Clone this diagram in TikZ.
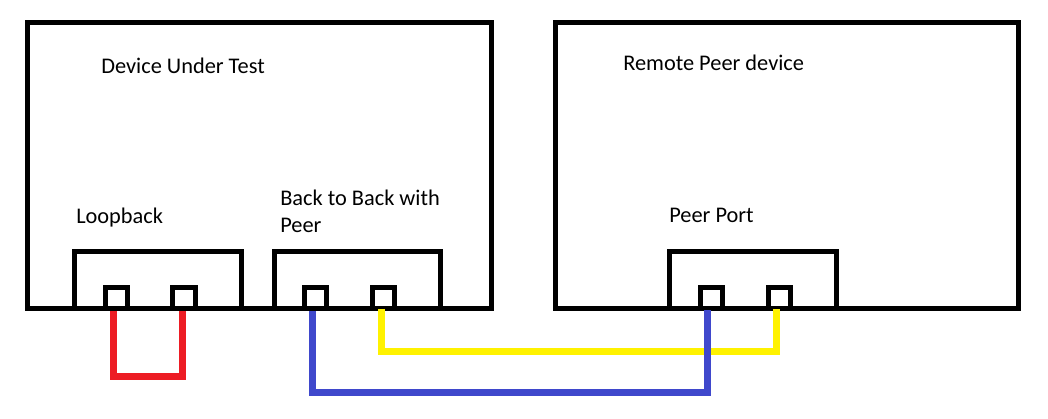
\documentclass[tikz,border=0pt]{standalone}
\usepackage{fontspec}
\setmainfont{Carlito}
\usepackage{tikz}
\usetikzlibrary{positioning,fit,calc}
\definecolor{wirered}{HTML}{ED1C24}
\definecolor{wireblue}{HTML}{3F48CC}
\definecolor{wireyellow}{HTML}{FFF200}
\tikzset{
  dev/.style={draw,line width=0.125cm,inner sep=0pt},
  portbox/.style={draw,line width=0.125cm,inner sep=0pt},
  pin/.style={draw,line width=0.125cm,inner sep=0pt},
  lbl/.style={anchor=base west,inner sep=0pt,align=left,font=\fontsize{15.9}{19.2}\selectfont},
  wire/.style={line width=0.175cm},
}
\begin{document}
\begin{tikzpicture}[x=0.025cm,y=-0.025cm]
\useasboundingbox (0,0) rectangle (1048,419);
% devices
\node[dev,fit={(27.5,22.5) (491.5,308.5)}] (dut) {};
\node[dev,fit={(555,22.5) (1018,308.5)}] (peer) {};
\node[lbl] (dutlbl) at (101,74) {Device Under Test};
\node[lbl] (peerlbl) at (623,71) {Remote Peer device};
% port groups
\node[portbox,fit={(74.5,251.5) (241,308.5)}] (loop) {};
\node[portbox,fit={(274,251.5) (440.5,308.5)}] (b2b) {};
\node[portbox,fit={(669.5,251.5) (836,308.5)}] (pport) {};
\node[lbl] (looplbl) at (76,224) {Loopback};
\node[lbl] (b2blbl) at (280,233) {Back to Back with\\Peer};
\node[lbl] (pportlbl) at (669,223) {Peer Port};
% pins
\node[pin,fit={(105,288) (127,308.5)}] (lp1) {};
\node[pin,fit={(172.5,288) (195,308.5)}] (lp2) {};
\node[pin,fit={(304,288) (326,308.5)}] (bb1) {};
\node[pin,fit={(372.5,288) (394,308.5)}] (bb2) {};
\node[pin,fit={(700,288) (722,308.5)}] (pp1) {};
\node[pin,fit={(768,288) (790,308.5)}] (pp2) {};
% cables
\coordinate (redlow) at (0,377);
\coordinate (yellowlow) at (0,351.5);
\coordinate (bluelow) at (0,392.5);
\draw[wire,wirered] ($(lp1.south)+(-2.5,0)$) coordinate (r1) -- (r1 |- redlow) -| ($(lp2.south)+(-1,0)$);
\draw[wire,wireyellow] ($(bb2.south)+(-2,-2)$) coordinate (y1) -- (y1 |- yellowlow) -| ($(pp2.south)+(-3,-2)$);
\draw[wire,wireblue] ($(bb1.south)+(-2.5,0)$) coordinate (b1) -- (b1 |- bluelow) -| ($(pp1.south)+(-4,-1)$);
\end{tikzpicture}
\end{document}
